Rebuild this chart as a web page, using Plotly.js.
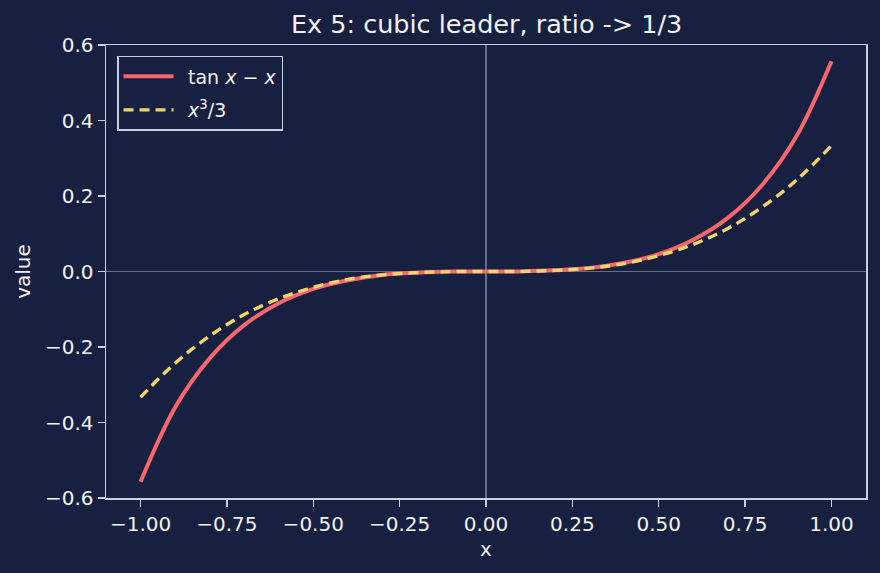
<!DOCTYPE html>
<html>
<head>
<meta charset="utf-8">
<script src="https://cdn.plot.ly/plotly-3.0.1.min.js"></script>
<style>html,body{margin:0;padding:0;background:#172040;}#chart{width:880px;height:573px;}</style>
</head>
<body>
<div id="chart"></div>
<script>
const xVals = [-1.0,-0.9,-0.8,-0.7,-0.6,-0.5,-0.4,-0.3,-0.2,-0.1,0.0,0.1,0.2,0.3,0.4,0.5,0.6,0.7,0.8,0.9,1.0];
const tanMinusX = [-0.557,-0.360,-0.230,-0.142,-0.084,-0.046,-0.023,-0.009,-0.003,-0.0003,0.0,0.0003,0.003,0.009,0.023,0.046,0.084,0.142,0.230,0.360,0.557];
const cubicThird = [-0.333,-0.243,-0.171,-0.114,-0.072,-0.042,-0.021,-0.009,-0.003,-0.0003,0.0,0.0003,0.003,0.009,0.021,0.042,0.072,0.114,0.171,0.243,0.333];
const xTicks = [-1.0,-0.75,-0.5,-0.25,0.0,0.25,0.5,0.75,1.0];
const xTickText = ['−1.00','−0.75','−0.50','−0.25','0.00','0.25','0.50','0.75','1.00'];
const yTicks = [-0.6,-0.4,-0.2,0.0,0.2,0.4,0.6];
const yTickText = ['−0.6','−0.4','−0.2','0.0','0.2','0.4','0.6'];
const seriesNames = ['\u2002tan <i>x</i> − <i>x</i>', '\u2002<i>x</i><sup>3</sup>/3'];

const bg = '#172040';
const fg = '#f2f2f2';
const spine = '#c8d0e2';
const font = {family: 'DejaVu Sans, sans-serif', size: 20, color: fg};
const legendFont = {family: 'DejaVu Sans, sans-serif', size: 19, color: fg};

const traces = [
  {x: xVals, y: tanMinusX, mode: 'lines', name: seriesNames[0], legendgroup: 'a',
   line: {color: '#f6666c', width: 4, shape: 'spline'}},
  {x: xVals, y: cubicThird, mode: 'lines', name: seriesNames[1], legendgroup: 'b',
   line: {color: '#f1d46b', width: 3.4, dash: '10px,6px', shape: 'spline'}}
];

const axisCommon = {
  showgrid: false, showline: true, linecolor: spine, linewidth: 1.5, mirror: true,
  ticks: 'outside', ticklen: 7, tickwidth: 1.5, tickcolor: spine,
  zeroline: true, zerolinecolor: 'rgba(200,210,230,0.45)', zerolinewidth: 1.3,
  tickfont: font, tickmode: 'array'
};

const layout = {
  width: 880, height: 573,
  paper_bgcolor: bg, plot_bgcolor: bg,
  margin: {l: 106, r: 14, t: 45, b: 75},
  font: font,
  title: {text: 'Ex 5: cubic leader, ratio -> 1/3', font: {family: 'DejaVu Sans, sans-serif', size: 25.5, color: fg},
          x: 0.553, xanchor: 'center', y: 0.958, yanchor: 'middle'},
  xaxis: Object.assign({}, axisCommon, {range: [-1.1, 1.1], tickvals: xTicks, ticktext: xTickText,
          title: {text: 'x', font: font, standoff: 7}}),
  yaxis: Object.assign({}, axisCommon, {range: [-0.6, 0.6], tickvals: yTicks, ticktext: yTickText,
          title: {text: 'value', font: font, standoff: 9}}),
  showlegend: true,
  legend: {x: 0.0145, y: 0.976, xanchor: 'left', yanchor: 'top', bgcolor: bg,
           bordercolor: spine, borderwidth: 1.5, font: legendFont, tracegroupgap: 6, itemwidth: 50}
};

Plotly.newPlot('chart', traces, layout, {displayModeBar: false, staticPlot: true});
</script>
</body>
</html>
